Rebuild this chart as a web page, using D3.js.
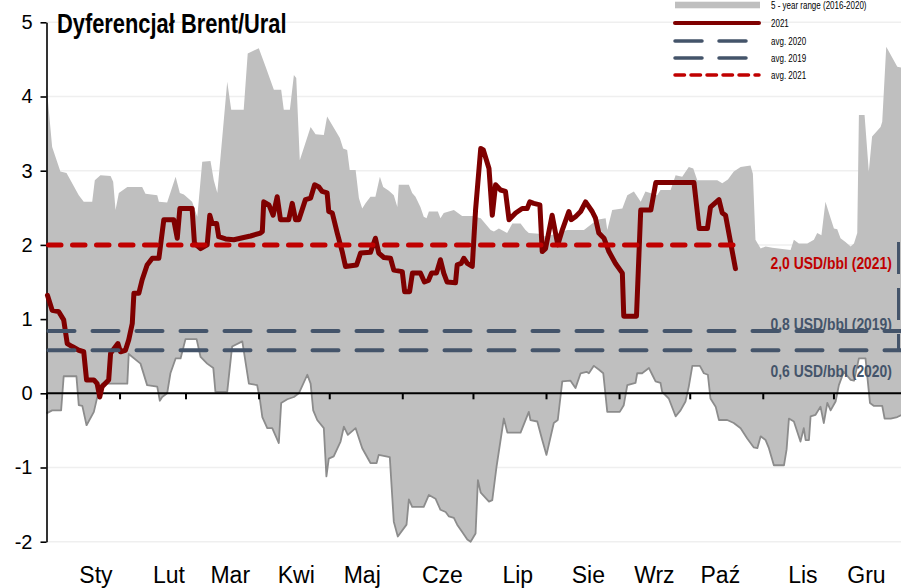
<!DOCTYPE html>
<html>
<head>
<meta charset="utf-8">
<script src="https://cdn.jsdelivr.net/npm/d3@7/dist/d3.min.js"></script>
<style>
  body { margin: 0; background: #fff; }
  svg { display: block; font-family: "Liberation Sans Narrow", "Arial Narrow", "Liberation Sans", Arial, sans-serif; }
</style>
</head>
<body>
<svg id="chart" width="901" height="588"></svg>
<script>
// Month labels (Polish), the day of year each label sits on, and value-axis ticks
const months = ["Sty", "Lut", "Mar", "Kwi", "Maj", "Cze", "Lip", "Sie", "Wrz", "Paź", "Lis", "Gru"];
const monthLabelDay = [21, 52, 78, 106, 134, 168, 200, 230, 258, 286, 321, 348];
const yTicks = [-2, -1, 0, 1, 2, 3, 4, 5];

// 5-year range (2016-2020), upper edge: [day of year, USD/bbl]
const rangeMax = [
  [0,4.15],[2.4,3.32],[5.9,2.99],[8.5,2.97],[13.7,2.67],[15.8,2.58],[19.4,2.58],[20.5,2.87],[22.9,2.94],
  [27.2,2.93],[28.3,2.85],[29.3,2.47],[30.7,2.70],[34.3,2.78],[40.6,2.78],[42.0,2.69],[47.0,2.67],[47.7,2.58],
  [51.2,2.57],[54.8,2.92],[56.6,2.70],[58.3,2.68],[61.8,2.58],[64.0,2.38],[66.1,3.12],[69.6,3.13],[71.0,2.87],
  [72.5,2.70],[76.7,4.20],[78.4,3.82],[83.7,3.82],[85.4,4.58],[90.1,4.65],[93.0,4.40],[96.5,4.09],[99.6,4.09],
  [100.7,3.82],[103.3,3.82],[105.0,4.29],[106.0,4.25],[107.5,3.14],[112.1,3.59],[114.2,3.49],[117.7,3.48],
  [119.1,3.73],[124.5,3.44],[125.9,3.30],[127.6,3.28],[128.7,3.01],[131.2,3.01],[132.6,2.63],[134.0,2.49],
  [135.4,2.56],[137.5,2.65],[139.6,2.65],[141.5,2.92],[142.9,2.78],[145.3,2.73],[147.4,2.67],[148.9,2.51],
  [149.5,2.81],[153.8,2.81],[155.2,2.70],[156.6,2.65],[158.7,2.51],[160.1,2.38],[161.3,2.36],[162.3,2.45],
  [166.1,2.45],[167.2,2.36],[168.6,2.43],[172.9,2.47],[176.4,2.39],[180.7,2.39],[184.3,2.36],[188.5,2.20],
  [189.9,2.18],[192.0,2.22],[195.5,2.16],[197.7,2.29],[201.2,2.29],[203.3,2.20],[204.7,2.16],[209.0,2.15],
  [210.4,2.11],[215.2,2.14],[221.0,2.20],[228.1,2.20],[233.7,2.34],[237.3,2.36],[238.0,2.20],[240.1,2.47],
  [244.4,2.49],[246.5,2.67],[249.3,2.72],[252.2,2.58],[254.2,2.72],[259.2,2.67],[260.6,2.74],[264.9,2.74],
  [267.0,2.94],[269.8,2.92],[272.6,3.05],[274.5,3.03],[276.2,2.87],[284.7,2.87],[286.8,2.83],[289.2,2.88],
  [291.7,2.99],[294.6,3.05],[298.8,3.07],[299.8,2.96],[300.9,2.07],[303.1,1.95],[305.2,1.98],[308.0,1.96],
  [315.8,1.93],[317.2,2.07],[319.3,2.02],[322.9,2.02],[325.7,2.07],[327.1,2.16],[328.9,2.13],[330.6,2.58],
  [332.8,2.36],[334.2,2.22],[335.6,2.21],[337.0,2.09],[339.1,2.04],[341.3,1.98],[342.7,2.02],[344.1,2.16],
  [344.8,3.75],[347.2,3.75],[349.0,2.99],[350.4,3.46],[354.0,3.59],[354.7,3.66],[356.4,4.67],[361.1,4.40],
  [365,4.38]
];

// 5-year range (2016-2020), lower edge: [day of year, USD/bbl]
const rangeMin = [
  [0,-0.27],[2.4,-0.23],[6.2,-0.23],[7.3,0.23],[12.7,0.23],[13.7,-0.16],[15.2,-0.17],[17.0,-0.43],[20.1,-0.25],
  [22.2,0.04],[23.6,0.13],[34.3,0.13],[34.9,0.53],[39.9,0.40],[42.7,0.11],[47.0,0.09],[48.1,-0.10],[49.1,-0.05],
  [51.2,0.00],[52.6,0.27],[54.8,0.47],[56.9,0.47],[59.0,0.73],[63.7,0.73],[65.4,0.49],[68.2,0.40],[70.8,0.34],
  [71.7,0.02],[76.7,0.02],[78.4,0.52],[78.8,0.63],[83.1,0.70],[85.9,0.13],[89.4,0.11],[90.5,-0.07],[91.6,-0.32],
  [93.7,-0.47],[95.8,-0.47],[98.6,-0.67],[99.6,-0.13],[102.2,-0.08],[105.0,-0.05],[107.1,0.00],[110.7,0.25],
  [112.1,0.13],[113.2,-0.23],[114.9,-0.36],[117.7,-0.47],[118.8,-1.12],[119.8,-0.88],[121.9,-0.85],[124.8,-0.65],
  [126.2,-0.45],[127.9,-0.56],[131.2,-0.47],[134.0,-0.74],[137.5,-0.94],[140.1,-0.94],[141.0,-0.83],[145.7,-0.86],
  [147.4,-1.73],[149.1,-1.93],[152.8,-1.77],[153.8,-1.43],[155.2,-1.53],[160.1,-1.53],[162.3,-1.37],[165.1,-1.42],
  [167.2,-1.57],[169.4,-1.60],[170.8,-1.66],[172.9,-1.68],[174.3,-1.77],[176.0,-1.85],[178.6,-1.97],[180.0,-2.00],
  [182.1,-1.89],[183.1,-1.17],[184.3,-1.34],[187.8,-1.46],[189.2,-1.44],[191.0,-0.99],[194.1,-0.34],[195.6,-0.53],
  [201.2,-0.53],[204.7,-0.25],[205.4,-0.36],[208.3,-0.38],[210.4,-0.63],[212.2,-0.83],[215.3,-0.40],[217.0,-0.36],
  [218.9,0.16],[222.4,0.17],[224.5,0.07],[226.7,0.27],[229.2,0.29],[230.2,0.27],[232.3,0.37],[234.4,0.32],
  [236.3,0.27],[238.0,-0.25],[243.3,-0.25],[245.0,-0.16],[246.5,0.11],[250.0,0.14],[250.7,0.27],[252.8,0.27],
  [255.7,0.34],[257.1,0.25],[258.5,0.16],[260.6,0.14],[261.3,0.02],[264.1,-0.07],[267.0,-0.31],[269.1,-0.23],
  [271.2,-0.11],[272.6,0.09],[274.1,0.37],[277.3,0.37],[279.0,0.27],[280.7,0.25],[281.8,-0.07],[284.0,-0.18],
  [285.4,-0.36],[288.9,-0.36],[291.7,-0.40],[294.6,-0.47],[297.4,-0.61],[300.2,-0.73],[301.7,-0.74],[303.1,-0.58],
  [305.2,-0.63],[306.6,-0.74],[308.7,-0.97],[313.0,-0.97],[314.1,-0.76],[315.1,-0.34],[317.2,-0.38],[320.0,-0.65],
  [321.4,-0.47],[322.2,-0.63],[323.6,-0.63],[324.3,-0.31],[326.4,-0.29],[328.5,-0.18],[329.9,-0.40],[331.4,-0.13],
  [332.8,-0.23],[334.9,-0.11],[336.3,0.11],[338.4,0.29],[341.3,0.18],[342.7,0.17],[344.8,0.47],[347.6,0.47],
  [349.5,-0.13],[351.2,-0.17],[354.7,-0.17],[355.7,-0.34],[358.3,-0.34],[361.1,-0.32],[365,-0.26]
];

// Brent/Urals differential in 2021: [day of year, USD/bbl]
const diff2021 = [
  [0.4,1.32],[2.4,1.12],[5.2,1.10],[7.3,0.99],[8.8,0.67],[10.9,0.63],[13.7,0.58],[15.8,0.56],[17.0,0.18],
  [20.1,0.18],[21.5,0.13],[22.6,-0.05],[23.6,0.09],[26.4,0.18],[27.2,0.54],[30.3,0.67],[31.4,0.56],[33.5,0.58],
  [34.9,0.72],[36.4,0.94],[37.1,1.35],[39.2,1.35],[40.6,1.53],[42.7,1.73],[44.9,1.82],[47.7,1.82],[49.8,2.34],
  [54.0,2.34],[55.5,2.09],[56.6,2.49],[61.8,2.49],[62.8,2.02],[65.4,1.95],[68.2,2.00],[69.3,2.40],[70.3,2.29],
  [72.2,2.29],[73.1,2.11],[76.0,2.08],[79.5,2.07],[83.7,2.10],[86.6,2.12],[90.8,2.16],[91.6,2.18],[92.2,2.58],
  [94.4,2.54],[96.2,2.40],[97.9,2.65],[99.3,2.34],[102.8,2.34],[104.3,2.56],[105.7,2.34],[107.1,2.34],
  [109.9,2.61],[112.1,2.63],[113.8,2.81],[115.6,2.78],[117.0,2.72],[119.1,2.70],[119.8,2.45],[121.3,2.43],
  [123.4,2.16],[125.5,1.91],[126.9,1.71],[131.6,1.73],[133.3,1.89],[137.5,1.90],[139.6,2.09],[141.0,1.89],
  [143.2,1.83],[146.0,1.82],[147.4,1.66],[151.0,1.64],[152.0,1.37],[154.1,1.37],[155.3,1.62],[158.7,1.62],
  [160.4,1.50],[162.1,1.52],[163.4,1.62],[165.5,1.62],[167.2,1.80],[168.6,1.62],[170.0,1.50],[173.6,1.49],
  [174.3,1.73],[176.0,1.75],[177.1,1.82],[178.6,1.75],[180.7,1.71],[182.1,2.47],[184.3,3.30],[185.4,3.28],
  [187.8,3.03],[189.2,2.40],[190.6,2.81],[192.7,2.74],[194.8,2.72],[196.3,2.34],[199.1,2.43],[201.9,2.49],
  [204.0,2.49],[205.1,2.58],[206.8,2.56],[209.4,2.54],[210.4,1.91],[211.8,1.95],[214.6,2.40],[217.0,2.00],
  [218.9,2.20],[221.7,2.45],[222.7,2.34],[224.5,2.38],[226.7,2.45],[228.8,2.58],[231.6,2.45],[233.0,2.36],
  [234.4,2.16],[236.6,2.09],[238.7,1.91],[241.5,1.75],[244.4,1.62],[245.0,1.04],[250.4,1.04],[252.2,2.47],
  [256.5,2.47],[258.6,2.84],[274.8,2.84],[277.0,2.22],[280.5,2.22],[281.8,2.51],[285.4,2.61],[286.8,2.43],
  [288.2,2.40],[292.4,1.68]
];

// Yearly averages, USD/bbl
const avg2021 = 2.0;
const avg2020 = 0.58;
const avg2019 = 0.84;

const legendItems = ["5 - year range (2016-2020)", "2021", "avg. 2020", "avg. 2019", "avg. 2021"];

// ---------------------------------------------------------------------------
const W = 901, H = 588;
const svg = d3.select("#chart");
const C = { range: "#BFBFBF", rangeEdge: "#8C8C8C", y2021: "#7F0000", avgRed: "#C00000", avgBlue: "#44546A", grid: "#EFEFEF" };

// condensed look for the narrow-face texts: squeeze horizontally about the anchor point
function narrow(sel, f) {
  sel.each(function () {
    const t = d3.select(this);
    const px = +t.attr("x"), py = +t.attr("y");
    t.attr("x", 0).attr("y", 0).attr("transform", `translate(${px},${py}) scale(${f},1)`);
  });
}

const x = d3.scaleLinear().domain([0, 365]).range([46.5, 906.5]);
const y = d3.scaleLinear().domain([-2, 5]).range([541.7, 22.3]);

const jan1 = new Date(2021, 0, 1);
const monthStarts = d3.timeMonth.range(jan1, new Date(2022, 0, 1)).map(m => d3.timeDay.count(jan1, m));

const plot = svg.append("g");

// horizontal gridlines
plot.append("g").selectAll("line").data(yTicks.filter(t => t !== 0)).join("line")
  .attr("x1", x(0)).attr("x2", W)
  .attr("y1", d => y(d)).attr("y2", d => y(d))
  .attr("stroke", C.grid).attr("stroke-width", 1.5);

// 5-year range band
const lineGen = d3.line().x(d => x(d[0])).y(d => y(d[1]));
const bandPts = rangeMax.concat(rangeMin.slice().reverse());
plot.append("path").attr("d", lineGen(bandPts) + "Z").attr("fill", C.range);
plot.append("path").attr("d", lineGen(rangeMin)).attr("fill", "none")
  .attr("stroke", C.rangeEdge).attr("stroke-width", 1.8).attr("stroke-linejoin", "round");

// zero axis with month ticks
const xAxis = d3.axisBottom(x).tickValues(monthStarts).tickSize(6).tickSizeOuter(0).tickFormat("");
const gx = plot.append("g").attr("transform", `translate(0,${y(0)})`).call(xAxis);
gx.select(".domain").attr("stroke", "#000").attr("stroke-width", 2).attr("d", `M${x(0)},0H${W}`);
gx.selectAll(".tick line").attr("stroke", "#000").attr("stroke-width", 2);

// month labels
plot.append("g").selectAll("text").data(months).join("text")
  .attr("x", (d, i) => x(monthLabelDay[i]))
  .attr("y", 583)
  .attr("text-anchor", "middle")
  .attr("font-size", 23)
  .attr("fill", "#000")
  .text(d => d);

// value axis
const yAxis = d3.axisLeft(y).tickValues(yTicks).tickSize(6).tickSizeOuter(0).tickPadding(8).tickFormat(d => String(d));
const gy = plot.append("g").attr("transform", `translate(${x(0)},0)`).call(yAxis);
gy.select(".domain").attr("stroke", "#000").attr("stroke-width", 1.6);
gy.selectAll(".tick line").attr("stroke", "#000").attr("stroke-width", 1.6);
gy.selectAll(".tick text").attr("font-size", 20).attr("fill", "#000").attr("font-family", null);

// average labels
const fmt = v => d3.format(".1f")(v).replace(".", ",");
const avgLabels = [
  { v: avg2021, txt: `${fmt(avg2021)} USD/bbl (2021)`, color: C.avgRed, dy: 24 },
  { v: avg2019, txt: `${fmt(avg2019)} USD/bbl (2019)`, color: C.avgBlue, dy: -0.5 },
  { v: avg2020, txt: `${fmt(avg2020)} USD/bbl (2020)`, color: C.avgBlue, dy: 27 }
];
const avgText = plot.append("g").selectAll("text").data(avgLabels).join("text")
  .attr("x", 892).attr("y", d => y(d.v) + d.dy)
  .attr("text-anchor", "end")
  .attr("font-size", 17).attr("font-weight", "bold")
  .attr("fill", d => d.color)
  .text(d => d.txt);
narrow(avgText, 0.82);

// 2021 differential
plot.append("path").attr("d", lineGen(diff2021)).attr("fill", "none")
  .attr("stroke", C.y2021).attr("stroke-width", 5)
  .attr("stroke-linejoin", "round").attr("stroke-linecap", "round");

// yearly averages
const lastDay = diff2021[diff2021.length - 1][0];
[avg2019, avg2020].forEach(v => {
  plot.append("line").attr("x1", x(0) + 2).attr("x2", x(365))
    .attr("y1", y(v)).attr("y2", y(v))
    .attr("stroke", C.avgBlue).attr("stroke-width", 4)
    .attr("stroke-dasharray", "26,18").attr("stroke-linecap", "round");
});
// right-edge bracket joining the averages
plot.append("line").attr("x1", W - 2.5).attr("x2", W - 2.5)
  .attr("y1", y(avg2021) - 3).attr("y2", y(avg2020))
  .attr("stroke", C.avgBlue).attr("stroke-width", 3)
  .attr("stroke-dasharray", "32,14");
plot.append("line").attr("x1", x(0) + 2).attr("x2", x(lastDay))
  .attr("y1", y(avg2021)).attr("y2", y(avg2021))
  .attr("stroke", C.avgRed).attr("stroke-width", 5)
  .attr("stroke-dasharray", "12.5,11.5").attr("stroke-linecap", "round");

// legend
const lg = svg.append("g").attr("transform", "translate(673,0)");
const rowY = [5, 23, 41, 58, 75];
lg.append("rect").attr("x", 2).attr("y", rowY[0] - 3.3).attr("width", 85).attr("height", 6.6).attr("fill", C.range);
lg.append("line").attr("x1", 2).attr("x2", 86).attr("y1", rowY[1]).attr("y2", rowY[1])
  .attr("stroke", C.y2021).attr("stroke-width", 4).attr("stroke-linecap", "round");
[2, 3].forEach(i => lg.append("line").attr("x1", 2).attr("x2", 78).attr("y1", rowY[i]).attr("y2", rowY[i])
  .attr("stroke", C.avgBlue).attr("stroke-width", 3.5).attr("stroke-dasharray", "27,17").attr("stroke-linecap", "round"));
lg.append("line").attr("x1", 2).attr("x2", 86).attr("y1", rowY[4]).attr("y2", rowY[4])
  .attr("stroke", C.avgRed).attr("stroke-width", 3.5).attr("stroke-dasharray", "9.5,6.5").attr("stroke-linecap", "round");
const lgText = lg.selectAll("text").data(legendItems).join("text")
  .attr("x", 98).attr("y", (d, i) => rowY[i] + 3.5)
  .attr("font-size", 10).attr("fill", "#000")
  .text(d => d);
narrow(lgText, 0.8);

// title
const title = svg.append("text").attr("x", 57).attr("y", 33)
  .attr("font-size", 27).attr("font-weight", "bold").attr("fill", "#000")
  .text("Dyferencjał Brent/Ural");
narrow(title, 0.81);
</script>
</body>
</html>
